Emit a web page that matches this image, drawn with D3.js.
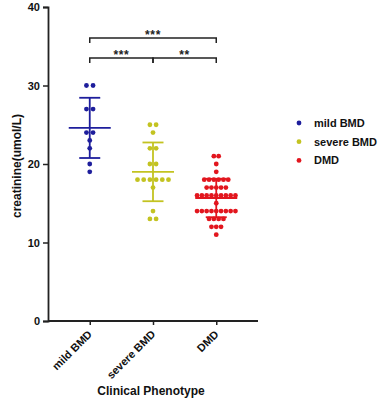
<!DOCTYPE html>
<html>
<head>
<meta charset="utf-8">
<script src="https://cdn.jsdelivr.net/npm/d3@7"></script>
<style>
  html, body { margin: 0; padding: 0; background: #fff; }
  svg { display: block; font-family: "Liberation Sans", Arial, sans-serif; }
</style>
</head>
<body>
<svg id="chart" width="381" height="400"></svg>
<script>
// ---- data ----
const categories = ["mild BMD", "severe BMD", "DMD"];
const mildBMD = [30, 30, 27, 27, 24, 24, 23, 22, 20, 19];
const severeBMD = [25, 25, 24, 22, 22, 20, 20, 18, 18, 18, 18, 18, 18, 17, 14, 13, 13];
const dmd = [21, 21, 20, 19,
  18, 18, 18, 18, 18, 18,
  17, 17, 17, 17, 17,
  16, 16, 16, 16, 16, 16, 16, 16, 16,
  15,
  14, 14, 14, 14, 14, 14, 14, 14, 14,
  13, 13, 13, 13,
  12, 12, 12,
  11];
const yTicks = [0, 10, 20, 30, 40];
const comparisons = [
  { from: "mild BMD", to: "DMD", label: "***", level: 1 },
  { from: "mild BMD", to: "severe BMD", label: "***", level: 0 },
  { from: "severe BMD", to: "DMD", label: "**", level: 0 }
];
const yTitle = "creatinine(umol/L)";
const xTitle = "Clinical Phenotype";

const groups = [
  { name: categories[0], values: mildBMD, color: "#1e1e9c", spacing: 6.6 },
  { name: categories[1], values: severeBMD, color: "#c3c321", spacing: 6.2 },
  { name: categories[2], values: dmd, color: "#e2161e", spacing: 4.8 }
];

// ---- layout ----
const svg = d3.select("#chart");
const mLeft = 48, mRight = 258, mTop = 7, mBottom = 321;
const font = "'Liberation Sans', Arial, sans-serif";

const x = d3.scalePoint().domain(categories).range([mLeft, mRight]).padding(0.66);
const y = d3.scaleLinear().domain([0, 40]).range([mBottom, mTop]);

// axes
const yAxis = svg.append("g")
  .attr("transform", `translate(${mLeft},0)`)
  .call(d3.axisLeft(y).tickValues(yTicks).tickSize(5).tickPadding(3));
const xAxis = svg.append("g")
  .attr("transform", `translate(0,${mBottom})`)
  .call(d3.axisBottom(x).tickSize(4).tickFormat(() => ""));
xAxis.select(".domain").attr("d", `M${mLeft},0H${mRight}`);

[yAxis, xAxis].forEach(g => {
  g.selectAll(".domain").attr("stroke", "#222").attr("stroke-width", 1.8);
  g.selectAll(".tick line").attr("stroke", "#222").attr("stroke-width", 1.5);
});
yAxis.selectAll(".tick text")
  .attr("font-family", font).attr("font-size", 11).attr("font-weight", "bold").attr("fill", "#111");

// x tick labels, rotated
svg.append("g").selectAll("text").data(categories).join("text")
  .attr("transform", d => `translate(${x(d) + 3},${mBottom + 14}) rotate(-45)`)
  .attr("text-anchor", "end")
  .attr("font-family", font).attr("font-size", 11).attr("font-weight", "bold").attr("fill", "#111")
  .text(d => d);

// axis titles
svg.append("text")
  .attr("transform", `translate(21,${(mTop + mBottom) / 2 + 2}) rotate(-90)`)
  .attr("text-anchor", "middle")
  .attr("font-family", font).attr("font-size", 12).attr("font-weight", "bold").attr("fill", "#111")
  .text(yTitle);
svg.append("text")
  .attr("x", (mLeft + mRight) / 2 - 2).attr("y", 395)
  .attr("text-anchor", "middle")
  .attr("font-family", font).attr("font-size", 12).attr("font-weight", "bold").attr("fill", "#111")
  .text(xTitle);

// points (column scatter)
groups.forEach(g => {
  const counts = d3.rollup(g.values, v => v.length, d => d);
  const seen = new Map();
  const pts = g.values.map(v => {
    const n = counts.get(v);
    const i = seen.get(v) || 0;
    seen.set(v, i + 1);
    return { v, off: (i - (n - 1) / 2) * g.spacing };
  });
  svg.append("g").selectAll("circle").data(pts).join("circle")
    .attr("cx", d => x(g.name) + d.off)
    .attr("cy", d => y(d.v))
    .attr("r", 2.4)
    .attr("fill", g.color);

  const m = d3.mean(g.values), sd = d3.deviation(g.values);
  const cx = x(g.name);
  const eg = svg.append("g").attr("stroke", g.color).attr("stroke-width", 1.8).attr("fill", "none");
  eg.append("line").attr("x1", cx).attr("x2", cx).attr("y1", y(m + sd)).attr("y2", y(m - sd));
  eg.append("line").attr("x1", cx - 21).attr("x2", cx + 21).attr("y1", y(m)).attr("y2", y(m));
  [m + sd, m - sd].forEach(v => {
    eg.append("line").attr("x1", cx - 10.5).attr("x2", cx + 10.5).attr("y1", y(v)).attr("y2", y(v));
  });
});

// significance brackets
const levelY = [58, 38];
comparisons.forEach(c => {
  const yy = levelY[c.level];
  const x1 = x(c.from), x2 = x(c.to);
  svg.append("path")
    .attr("d", `M${x1},${yy + 5}V${yy}H${x2}V${yy + 5}`)
    .attr("fill", "none").attr("stroke", "#222").attr("stroke-width", 1.5);
  svg.append("text")
    .attr("x", (x1 + x2) / 2).attr("y", yy + 0.5)
    .attr("text-anchor", "middle")
    .attr("font-family", font).attr("font-size", 12).attr("font-weight", "bold").attr("fill", "#222")
    .attr("letter-spacing", 0.6)
    .text(c.label);
});

// legend
const lg = svg.append("g").attr("transform", "translate(299,123)");
groups.forEach((g, i) => {
  const row = lg.append("g").attr("transform", `translate(0,${i * 18.7})`);
  row.append("circle").attr("r", 2.4).attr("fill", g.color);
  row.append("text").attr("x", 15).attr("y", 4)
    .attr("font-family", font).attr("font-size", 11).attr("font-weight", "bold").attr("fill", "#111")
    .text(g.name);
});
</script>
</body>
</html>
